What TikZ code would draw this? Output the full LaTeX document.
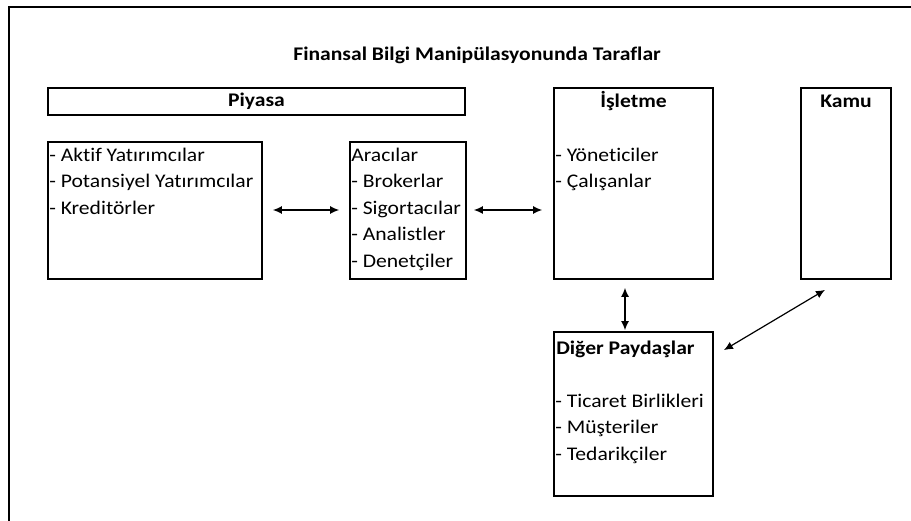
\documentclass[tikz,border=0pt]{standalone}
\usepackage{fontspec}
\setmainfont{Carlito}[FakeStretch=1.12,Ligatures=NoCommon]
\usetikzlibrary{arrows.meta,positioning}

\begin{document}
\begin{tikzpicture}[x=1pt, y=-1pt,
		box/.style = {draw, line width=1.8pt, rectangle, inner sep=0pt},
		item/.style = {anchor=base west, inner sep=0pt, font=\fontsize{19.3}{22}\selectfont},
		head/.style = {inner sep=0pt, font=\bfseries\fontsize{19.3}{22}\selectfont},
		link/.style = {{Latex[length=9pt,width=8pt]}-{Latex[length=9pt,width=8pt]}, line width=1.2pt}]
			\useasboundingbox (0,0) rectangle (911,521);
			\draw[line width=2pt] (9,521) -- (9,7) -- (911,7);
			\node[head, anchor=base] (title) at (477,61) {Finansal Bilgi Manipülasyonunda Taraflar};
			% kutular
			\node[box, minimum width=417pt, minimum height=27pt, font=\bfseries\fontsize{19.3}{22}\selectfont] (piyasa) at (256.5,101.5) {Piyasa};
			\node[box, minimum width=214pt, minimum height=137pt] (yatirimci) at (155,210.5) {};
			\node[box, minimum width=116pt, minimum height=137pt] (aracilar) at (408,210.5) {};
			\node[box, minimum width=159pt, minimum height=191pt] (isletme) at (633.5,183.5) {};
			\node[box, minimum width=90pt, minimum height=191pt] (kamu) at (846,183.5) {};
			\node[box, minimum width=159pt, minimum height=164pt] (diger) at (633.5,414) {};
			% basliklar
			\node[head, anchor=base] (isletmebaslik) at ([yshift=-20pt]isletme.north) {İşletme};
			\node[head, anchor=base] (kamubaslik) at ([yshift=-20pt]kamu.north) {Kamu};
			\node[head, anchor=base west] (digerbaslik) at ([xshift=3pt,yshift=-23pt]diger.north west) {Diğer Paydaşlar};
			% maddeler
			\node[item] (y1) at ([xshift=2pt,yshift=-20pt]yatirimci.north west) {- Aktif Yatırımcılar};
			\node[item] (y2) at ([yshift=-26.5pt]y1.base west) {- Potansiyel Yatırımcılar};
			\node[item] (y3) at ([yshift=-26.5pt]y2.base west) {- Kreditörler};
			\node[item] (a1) at ([xshift=2pt,yshift=-20pt]aracilar.north west) {Aracılar};
			\node[item] (a2) at ([yshift=-26.5pt]a1.base west) {- Brokerlar};
			\node[item] (a3) at ([yshift=-26.5pt]a2.base west) {- Sigortacılar};
			\node[item] (a4) at ([yshift=-26.5pt]a3.base west) {- Analistler};
			\node[item] (a5) at ([yshift=-26.5pt]a4.base west) {- Denetçiler};
			\node[item] (i1) at ([xshift=2pt,yshift=-74pt]isletme.north west) {- Yöneticiler};
			\node[item] (i2) at ([yshift=-26.5pt]i1.base west) {- Çalışanlar};
			\node[item] (d1) at ([xshift=2pt,yshift=-76pt]diger.north west) {- Ticaret Birlikleri};
			\node[item] (d2) at ([yshift=-26.5pt]d1.base west) {- Müşteriler};
			\node[item] (d3) at ([yshift=-26.5pt]d2.base west) {- Tedarikçiler};
			% oklar
			\draw[link] ([xshift=10pt,yshift=0.5pt]yatirimci.east) -- ([xshift=-10pt,yshift=0.5pt]aracilar.west);
			\draw[link] ([xshift=7pt,yshift=0.5pt]aracilar.east) -- ([xshift=-11pt,yshift=0.5pt]aracilar.east -| isletme.west);
			\draw[link] ([xshift=-8.5pt,yshift=-8pt]isletme.south) -- ([xshift=-8.5pt,yshift=1pt]diger.north);
			\draw[link] ([xshift=10pt,yshift=-19pt]diger.north east) -- ([xshift=-21pt,yshift=-10pt]kamu.south);
		\end{tikzpicture}
\end{document}
